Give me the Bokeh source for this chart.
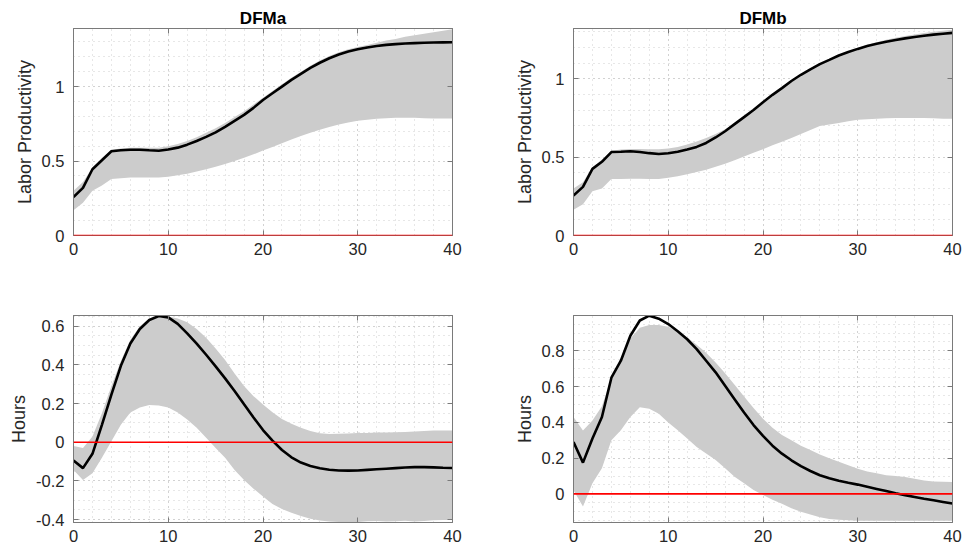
import numpy as np
from bokeh.plotting import figure
from bokeh.layouts import column, row
from bokeh.models import Range1d, FixedTicker, Span, LinearAxis, CustomJSTickFormatter
from bokeh.embed import file_html
from bokeh.resources import INLINE

horizon = list(range(41))

lp_a_mid = [0.258, 0.32, 0.445, 0.505, 0.566, 0.572, 0.576, 0.576, 0.572, 0.569, 0.577, 0.59, 0.61, 0.635,
            0.662, 0.693, 0.73, 0.77, 0.81, 0.857, 0.91, 0.955, 1.0, 1.045, 1.085, 1.125, 1.16, 1.19, 1.215,
            1.235, 1.25, 1.263, 1.273, 1.28, 1.285, 1.289, 1.292, 1.294, 1.296, 1.297, 1.298]
lp_a_hi = [0.30, 0.36, 0.455, 0.52, 0.575, 0.585, 0.59, 0.59, 0.59, 0.59, 0.60, 0.615, 0.635, 0.66, 0.69,
           0.72, 0.755, 0.795, 0.835, 0.88, 0.925, 0.97, 1.015, 1.06, 1.1, 1.14, 1.175, 1.205, 1.23, 1.25,
           1.265, 1.28, 1.295, 1.31, 1.32, 1.335, 1.345, 1.355, 1.365, 1.375, 1.385]
lp_a_lo = [0.17, 0.22, 0.30, 0.335, 0.38, 0.385, 0.39, 0.39, 0.39, 0.39, 0.395, 0.405, 0.415, 0.43, 0.445,
           0.462, 0.48, 0.5, 0.522, 0.545, 0.57, 0.595, 0.62, 0.645, 0.668, 0.69, 0.71, 0.728, 0.745, 0.758,
           0.77, 0.778, 0.784, 0.788, 0.79, 0.79, 0.79, 0.788, 0.786, 0.786, 0.786]

lp_b_mid = [0.255, 0.31, 0.425, 0.47, 0.532, 0.534, 0.537, 0.532, 0.525, 0.52, 0.524, 0.534, 0.548, 0.565,
            0.59, 0.625, 0.665, 0.71, 0.755, 0.80, 0.85, 0.897, 0.94, 0.985, 1.025, 1.06, 1.093, 1.12, 1.148,
            1.17, 1.19, 1.208, 1.223, 1.236, 1.247, 1.257, 1.266, 1.274, 1.281, 1.287, 1.292]
lp_b_hi = [0.30, 0.34, 0.435, 0.485, 0.54, 0.548, 0.552, 0.552, 0.55, 0.55, 0.555, 0.565, 0.58, 0.60, 0.622,
           0.648, 0.678, 0.715, 0.757, 0.80, 0.848, 0.894, 0.938, 0.98, 1.02, 1.058, 1.092, 1.122, 1.15,
           1.175, 1.197, 1.216, 1.233, 1.248, 1.261, 1.272, 1.282, 1.291, 1.299, 1.306, 1.312]
lp_b_lo = [0.165, 0.2, 0.282, 0.30, 0.36, 0.36, 0.362, 0.362, 0.36, 0.36, 0.368, 0.378, 0.39, 0.405, 0.42,
           0.438, 0.458, 0.48, 0.503, 0.527, 0.55, 0.575, 0.598, 0.622, 0.648, 0.672, 0.698, 0.708, 0.718,
           0.728, 0.738, 0.742, 0.745, 0.747, 0.749, 0.75, 0.75, 0.75, 0.748, 0.745, 0.745]

h_a_mid = [-0.095, -0.134, -0.06, 0.09, 0.246, 0.395, 0.51, 0.585, 0.632, 0.652, 0.645, 0.612, 0.563, 0.51,
           0.452, 0.392, 0.33, 0.265, 0.196, 0.128, 0.063, 0.008, -0.04, -0.078, -0.105, -0.123, -0.135,
           -0.142, -0.146, -0.147, -0.146, -0.143, -0.14, -0.137, -0.134, -0.131, -0.129, -0.129, -0.13,
           -0.132, -0.133]
h_a_hi = [-0.02, -0.03, 0.03, 0.15, 0.29, 0.42, 0.53, 0.60, 0.64, 0.652, 0.65, 0.64, 0.62, 0.585, 0.54,
          0.485, 0.425, 0.355, 0.29, 0.238, 0.195, 0.155, 0.12, 0.095, 0.075, 0.058, 0.046, 0.043, 0.044,
          0.045, 0.047, 0.048, 0.05, 0.05, 0.052, 0.053, 0.055, 0.058, 0.06, 0.06, 0.06]
h_a_lo = [-0.143, -0.195, -0.16, -0.08, 0.005, 0.09, 0.153, 0.18, 0.193, 0.19, 0.18, 0.153, 0.118, 0.075,
          0.023, -0.03, -0.08, -0.143, -0.195, -0.24, -0.28, -0.32, -0.345, -0.365, -0.382, -0.395, -0.405,
          -0.41, -0.412, -0.413, -0.412, -0.408, -0.407, -0.41, -0.408, -0.406, -0.41, -0.407, -0.403,
          -0.402, -0.402]

h_b_mid = [0.29, 0.175, 0.31, 0.43, 0.65, 0.745, 0.885, 0.97, 0.997, 0.98, 0.95, 0.91, 0.865, 0.81, 0.745,
           0.68, 0.605, 0.53, 0.455, 0.385, 0.325, 0.27, 0.225, 0.188, 0.155, 0.128, 0.104, 0.087, 0.073,
           0.062, 0.052, 0.04, 0.028, 0.016, 0.004, -0.007, -0.017, -0.027, -0.036, -0.045, -0.054]
h_b_hi = [0.43, 0.355, 0.41, 0.49, 0.65, 0.745, 0.87, 0.93, 0.945, 0.945, 0.935, 0.91, 0.875, 0.835, 0.79,
          0.735, 0.675, 0.61, 0.545, 0.48, 0.42, 0.37, 0.33, 0.3, 0.27, 0.245, 0.22, 0.2, 0.18, 0.16, 0.14,
          0.125, 0.115, 0.105, 0.1, 0.095, 0.085, 0.075, 0.07, 0.068, 0.067]
h_b_lo = [0.02, -0.07, 0.06, 0.143, 0.30, 0.356, 0.43, 0.485, 0.476, 0.448, 0.40, 0.356, 0.31, 0.263, 0.226,
          0.19, 0.143, 0.096, 0.06, 0.022, -0.006, -0.033, -0.055, -0.08, -0.1, -0.115, -0.13, -0.14, -0.145,
          -0.148, -0.15, -0.15, -0.15, -0.15, -0.15, -0.15, -0.15, -0.15, -0.15, -0.15, -0.15]

titles = ["DFMa", "DFMb"]
ylabels = ["Labor Productivity", "Hours"]
x_ticks = [0, 10, 20, 30, 40]

FONT = "Liberation Sans"
AX = "#7a7a7a"
TXT = "#262626"
fmt = CustomJSTickFormatter(code="return String(Math.round(tick*1000)/1000);")


def panel(mid, lo, hi, yr, yticks, yminor, title, ylabel, width, height, bl, br, bt, bb):
    p = figure(width=width, height=height, output_backend="svg", toolbar_location=None,
               x_range=Range1d(0, 40), y_range=Range1d(*yr),
               min_border_left=bl, min_border_right=br, min_border_top=bt, min_border_bottom=bb,
               background_fill_color="white", border_fill_color="white")
    p.varea(x=horizon, y1=lo, y2=hi, fill_color="#cccccc", fill_alpha=1.0)
    p.add_layout(Span(location=0, dimension="width", line_color="#ff0000", line_width=1.6))
    p.line(horizon, mid, line_color="black", line_width=2.6)

    xt = FixedTicker(ticks=x_ticks, minor_ticks=list(np.arange(0, 40.01, 2)))
    yt = FixedTicker(ticks=yticks, minor_ticks=yminor)
    p.xaxis.ticker = xt
    p.yaxis.ticker = yt
    for ax in (p.xaxis[0], p.yaxis[0]):
        ax.formatter = fmt
        ax.major_tick_in = 5
        ax.major_tick_out = 0
        ax.minor_tick_in = 0
        ax.minor_tick_out = 0
        ax.axis_line_color = AX
        ax.major_tick_line_color = AX
        ax.major_label_text_font = FONT
        ax.major_label_text_font_size = "16.5px"
        ax.major_label_text_color = TXT
    p.xaxis.major_label_standoff = 7
    p.yaxis.major_label_standoff = 9
    p.yaxis.axis_label = ylabel
    p.yaxis.axis_label_text_font = FONT
    p.yaxis.axis_label_text_font_size = "18px"
    p.yaxis.axis_label_text_font_style = "normal"
    p.yaxis.axis_label_text_color = TXT
    p.yaxis.axis_label_standoff = 4

    # box ticks on top and right (labels not painted)
    top = LinearAxis(ticker=xt, major_label_text_font_size="1px", major_label_text_color=None,
                     major_tick_in=5, major_tick_out=0, minor_tick_in=0, minor_tick_out=0,
                     axis_line_color=AX, major_tick_line_color=AX, major_label_standoff=0)
    right = LinearAxis(ticker=yt, major_label_text_font_size="1px", major_label_text_color=None,
                       major_tick_in=5, major_tick_out=0, minor_tick_in=0, minor_tick_out=0,
                       axis_line_color=AX, major_tick_line_color=AX, major_label_standoff=0)
    p.add_layout(top, "above")
    p.add_layout(right, "right")

    for g in (p.xgrid[0], p.ygrid[0]):
        g.grid_line_color = "#bdbdbd"
        g.grid_line_dash = "1 4"
        g.grid_line_width = 1
        g.minor_grid_line_color = "#cfcfcf"
        g.minor_grid_line_dash = "1 4"
        g.minor_grid_line_width = 1
    p.outline_line_color = AX
    p.outline_line_width = 1

    if title:
        p.title.text = title
        p.title.align = "center"
        p.title.text_font = FONT
        p.title.text_font_size = "17px"
        p.title.text_font_style = "bold"
        p.title.text_color = "black"
        p.title.standoff = 2
    return p


lp_minor = [round(v, 2) for v in np.arange(0, 1.39, 0.1)]
ha_minor = [round(v, 2) for v in np.arange(-0.4, 0.66, 0.05)]
hb_minor = [round(v, 2) for v in np.arange(-0.15, 1.0, 0.05)]

p1 = panel(lp_a_mid, lp_a_lo, lp_a_hi, (0, 1.39), [0, 0.5, 1], lp_minor, titles[0], ylabels[0],
           482, 280, 73, 30, 28, 45)
p2 = panel(lp_b_mid, lp_b_lo, lp_b_hi, (0, 1.32), [0, 0.5, 1], lp_minor, titles[1], ylabels[0],
           483, 280, 91, 13, 28, 45)
p3 = panel(h_a_mid, h_a_lo, h_a_hi, (-0.415, 0.655), [-0.4, -0.2, 0, 0.2, 0.4, 0.6], ha_minor, None, ylabels[1],
           482, 274, 73, 30, 35, 32)
p4 = panel(h_b_mid, h_b_lo, h_b_hi, (-0.16, 0.998), [0, 0.2, 0.4, 0.6, 0.8], hb_minor, None, ylabels[1],
           483, 274, 91, 13, 35, 32)

layout = column(row(p1, p2), row(p3, p4))
open("out.html", "w").write(file_html(layout, INLINE))
